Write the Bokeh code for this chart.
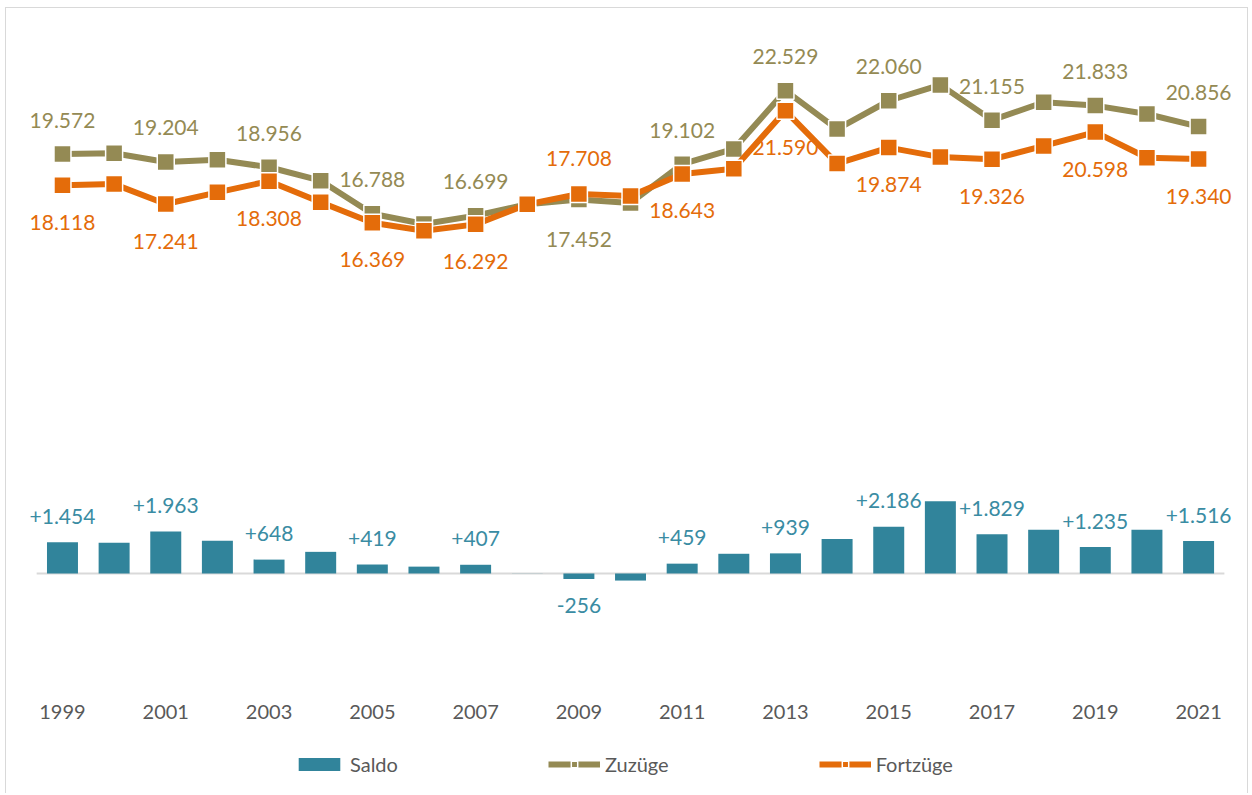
from bokeh.plotting import figure
from bokeh.models import ColumnDataSource, Range1d, FixedTicker, Legend, LegendItem, LinearAxis
from bokeh.core.properties import value
from bokeh.embed import file_html
from bokeh.resources import INLINE

# ---- data ----
years = list(range(1999, 2022))
zuzuege = [19572, 19610, 19204, 19310, 18956, 18330, 16788, 16310, 16699, 17230, 17452, 17290,
           19102, 19810, 22529, 20740, 22060, 22800, 21155, 21990, 21833, 21440, 20856]
fortzuege = [18118, 18170, 17241, 17786, 18308, 17320, 16369, 15990, 16292, 17225, 17708, 17620,
             18643, 18890, 21590, 19130, 19874, 19430, 19326, 19950, 20598, 19400, 19340]
saldo = [1454, 1440, 1963, 1524, 648, 1010, 419, 320, 407, 5, -256, -330,
         459, 920, 939, 1610, 2186, 3370, 1829, 2040, 1235, 2040, 1516]
tick_years = [1999, 2001, 2003, 2005, 2007, 2009, 2011, 2013, 2015, 2017, 2019, 2021]
tick_labels = ["1999", "2001", "2003", "2005", "2007", "2009", "2011", "2013", "2015", "2017", "2019", "2021"]
series_names = ["Saldo", "Zuzüge", "Fortzüge"]

C_SALDO = "#31849B"
C_ZU = "#948A54"
C_FORT = "#E46C0A"
C_TXT = "#595959"
FONT = "Lato"

def de(v, sign=False):
    s = f"{abs(v):,}".replace(",", ".")
    if v < 0:
        return "-" + s
    return ("+" + s) if sign else s

W, H = 1243, 786
p = figure(width=W, height=H, output_backend="svg", toolbar_location=None,
           x_range=Range1d(1997.916, 2021.986), y_range=Range1d(-10313, 24498),
           x_axis_location=None, y_axis_location=None,
           min_border_left=0, min_border_right=0, min_border_top=40, min_border_bottom=0)
p.styles = {"border-top": "1px solid #d9d9d9", "border-left": "1px solid #d9d9d9",
            "border-right": "1px solid #d9d9d9", "margin-left": "5px", "margin-top": "7px"}
p.outline_line_color = None
p.xgrid.visible = False
p.ygrid.visible = False
p.background_fill_color = "white"
p.border_fill_color = "white"

# baseline across the category range
p.segment(x0=[years[0] - 0.5], x1=[years[-1] + 0.5], y0=[0], y1=[0],
          line_color="#d9d9d9", line_width=2)

src = ColumnDataSource(dict(year=years, zu=zuzuege, fort=fortzuege, saldo=saldo))

bars = p.vbar(x="year", top="saldo", bottom=0, width=0.6, source=src,
              fill_color=C_SALDO, line_color=None)

zl = p.line("year", "zu", source=src, line_color=C_ZU, line_width=6)
zm = p.scatter("year", "zu", source=src, marker="square", size=17,
               fill_color=C_ZU, line_color="white", line_width=1.5)
fl = p.line("year", "fort", source=src, line_color=C_FORT, line_width=6)
fm = p.scatter("year", "fort", source=src, marker="square", size=17,
               fill_color=C_FORT, line_color="white", line_width=1.5)

# data labels for odd years
lab_idx = [i for i, y in enumerate(years) if y in tick_years]
zu_lab = dict(x=[], y=[], t=[], off=[])
fo_lab = dict(x=[], y=[], t=[], off=[])
sa_lab = dict(x=[], y=[], t=[], off=[])
for i in lab_idx:
    up = zuzuege[i] >= fortzuege[i]
    zu_lab["x"].append(years[i]); zu_lab["y"].append(zuzuege[i]); zu_lab["t"].append(de(zuzuege[i]))
    zu_lab["off"].append(-34 if up else 40)
    fo_lab["x"].append(years[i]); fo_lab["y"].append(fortzuege[i]); fo_lab["t"].append(de(fortzuege[i]))
    fo_lab["off"].append(37 if up else -36)
    sa_lab["x"].append(years[i]); sa_lab["y"].append(saldo[i]); sa_lab["t"].append(de(saldo[i], sign=True))
    sa_lab["off"].append(-26 if saldo[i] >= 0 else 27)

for d, col in ((zu_lab, C_ZU), (fo_lab, C_FORT), (sa_lab, "#3A8CA3")):
    p.text(x="x", y="y", text="t", y_offset="off", source=ColumnDataSource(d),
           text_align="center", text_baseline="middle", text_color=col,
           text_font=value(FONT), text_font_size="21px")

# category axis drawn inside the frame, labels above its (invisible) line
xax = LinearAxis(fixed_location=-7373, ticker=FixedTicker(ticks=tick_years))
xax.major_label_overrides = {y: l for y, l in zip(tick_years, tick_labels)}
xax.axis_line_color = None
xax.major_tick_line_color = None
xax.minor_tick_line_color = None
xax.major_label_standoff = 6
xax.major_label_text_font = FONT
xax.major_label_text_font_size = "20px"
xax.major_label_text_color = C_TXT
p.add_layout(xax, "above")

legend = Legend(items=[LegendItem(label=series_names[0], renderers=[bars]),
                       LegendItem(label=series_names[1], renderers=[zl, zm]),
                       LegendItem(label=series_names[2], renderers=[fl, fm])],
                location=(287, 18), orientation="horizontal", spacing=150,
                padding=0, margin=0, glyph_width=52, glyph_height=16, label_height=20,
                label_standoff=5, label_text_font=FONT, label_text_font_size="20px",
                label_text_color=C_TXT, background_fill_alpha=0, border_line_color=None)
p.add_layout(legend, "center")

open("out.html", "w").write(file_html(p, INLINE))
